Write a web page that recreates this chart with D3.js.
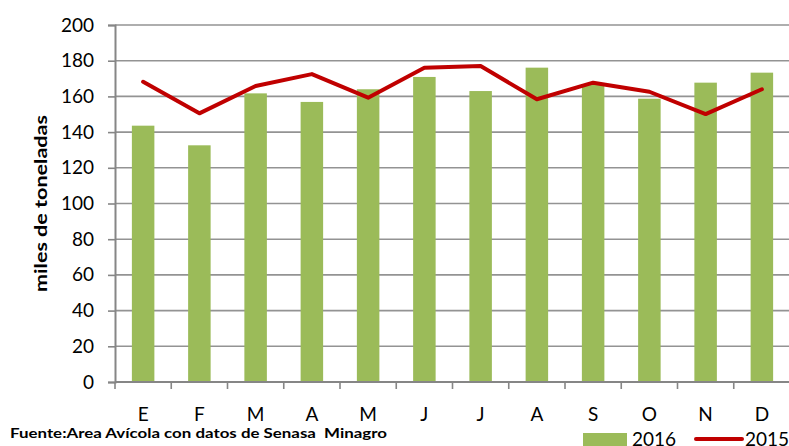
<!DOCTYPE html>
<html>
<head>
<meta charset="utf-8">
<script src="https://cdn.jsdelivr.net/npm/d3@7"></script>
<style>
body { margin: 0; background: #fff; }
svg { display: block; font-family: Lato, 'Open Sans', sans-serif; }
text { white-space: pre; }
</style>
</head>
<body>
<svg id="chart" width="789" height="446"></svg>
<script>
var months = ['E','F','M','A','M','J','J','A','S','O','N','D']
var v2016 = [143.6, 132.6, 161.7, 156.9, 164, 170.9, 163, 176.1, 166.4, 158.7, 167.7, 173.3]
var v2015 = [168.2, 150.5, 165.8, 172.5, 159.3, 176.1, 177, 158.4, 167.7, 162.6, 150.1, 164]
var yTicks = [0,20,40,60,80,100,120,140,160,180,200]

var svg = d3.select('#chart')
var pLeft = 115, pRight = 790, pTop = 25, pBottom = 382

var x = d3.scaleBand().domain(d3.range(months.length)).range([pLeft, pRight]).padding(0)
var y = d3.scaleLinear().domain([0, 200]).range([pBottom, pTop])

// gridlines
svg.append('g').selectAll('line').data(yTicks.slice(1)).join('line')
	.attr('x1', pLeft).attr('x2', 789)
	.attr('y1', d => y(d)).attr('y2', d => y(d))
	.attr('stroke', '#939393').attr('stroke-width', 1.6)

// bars
var bw = x.bandwidth() * 0.4
svg.append('g').selectAll('rect').data(v2016).join('rect')
	.attr('x', (d,i) => x(i) + x.bandwidth()/2 - bw/2)
	.attr('width', bw)
	.attr('y', d => y(d))
	.attr('height', d => y(0) - y(d))
	.attr('fill', '#9BBB59')

// y axis
var ya = svg.append('g').attr('transform', 'translate(' + pLeft + ',0)')
	.call(d3.axisLeft(y).tickValues(yTicks).tickSize(7).tickPadding(14))
ya.select('.domain').attr('stroke', '#868686').attr('stroke-width', 2)
ya.selectAll('.tick line').attr('stroke', '#868686').attr('stroke-width', 1.6)
ya.selectAll('.tick text').attr('font-size', 19).attr('fill', '#000')
	.attr('font-family', 'Lato, sans-serif')

// x axis
var xa = svg.append('g').attr('transform', 'translate(0,' + pBottom + ')')
xa.append('line').attr('x1', pLeft).attr('x2', pRight).attr('stroke', '#868686').attr('stroke-width', 2)
xa.selectAll('line.tk').data(d3.range(months.length + 1)).join('line').attr('class','tk')
	.attr('x1', i => pLeft + i * x.step()).attr('x2', i => pLeft + i * x.step())
	.attr('y1', 0).attr('y2', 7)
	.attr('stroke', '#868686').attr('stroke-width', 1.6)
xa.selectAll('text').data(months).join('text')
	.attr('x', (d,i) => x(i) + x.bandwidth()/2)
	.attr('y', 39)
	.attr('text-anchor', 'middle')
	.attr('font-size', 19)
	.text(d => d)

// 2015 line
var line = d3.line().x((d,i) => x(i) + x.bandwidth()/2).y(d => y(d))
svg.append('path').datum(v2015)
	.attr('d', line)
	.attr('fill', 'none')
	.attr('stroke', '#C00000')
	.attr('stroke-width', 4)
	.attr('stroke-linejoin', 'round')
	.attr('stroke-linecap', 'round')

// y title
svg.append('text')
	.attr('transform', 'translate(47,' + ((pTop + pBottom) / 2) + ') rotate(-90)')
	.attr('text-anchor', 'middle')
	.attr('font-size', 17).attr('font-weight', 'bold')
	.attr('textLength', 177).attr('lengthAdjust', 'spacingAndGlyphs')
	.text('miles de toneladas')

// source
svg.append('text')
	.attr('x', 10).attr('y', 438)
	.attr('font-size', 13.5).attr('font-weight', 'bold')
	.attr('textLength', 377).attr('lengthAdjust', 'spacingAndGlyphs')
	.text('Fuente:Area Avícola con datos de Senasa  Minagro')

// legend
var lg = svg.append('g')
lg.append('rect').attr('x', 583).attr('y', 433).attr('width', 44).attr('height', 14).attr('fill', '#9BBB59')
lg.append('text').attr('x', 632).attr('y', 446).attr('font-size', 19).text('2016')
lg.append('line').attr('x1', 696).attr('x2', 742).attr('y1', 439).attr('y2', 439)
	.attr('stroke', '#C00000').attr('stroke-width', 4).attr('stroke-linecap', 'round')
lg.append('text').attr('x', 745).attr('y', 446).attr('font-size', 19).text('2015')
</script>
</body>
</html>
